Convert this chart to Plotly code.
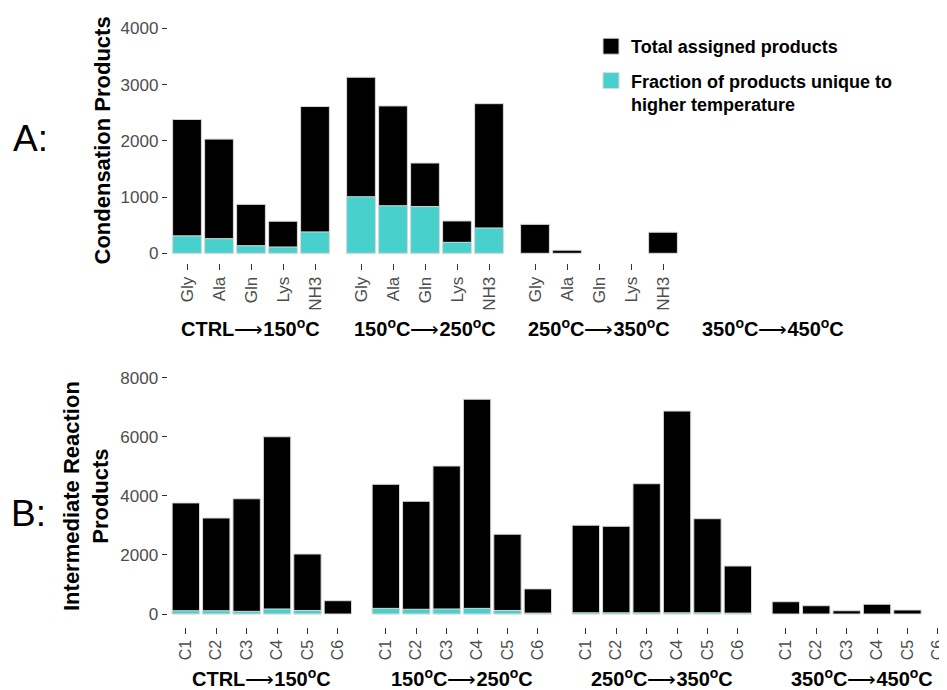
import plotly.graph_objects as go

# ---------------- data ----------------
amino_acids = ["Gly", "Ala", "Gln", "Lys", "NH3"]
carbon_classes = ["C1", "C2", "C3", "C4", "C5", "C6"]
transitions = ["CTRL⟶150<sup>o</sup>C", "150<sup>o</sup>C⟶250<sup>o</sup>C",
               "250<sup>o</sup>C⟶350<sup>o</sup>C", "350<sup>o</sup>C⟶450<sup>o</sup>C"]

# Panel A: condensation products (per transition; last transition has no data)
cond_total_ctrl_150 = [2380, 2030, 870, 570, 2610]
cond_total_150_250 = [3130, 2620, 1605, 575, 2660]
cond_total_250_350 = [515, 55, 0, 0, 375]
cond_unique_ctrl_150 = [310, 260, 135, 112, 380]
cond_unique_150_250 = [1005, 845, 830, 195, 450]
cond_unique_250_350 = [0, 0, 0, 0, 0]

# Panel B: intermediate reaction products
inter_total_ctrl_150 = [3760, 3250, 3900, 6000, 2030, 450]
inter_total_150_250 = [4390, 3815, 5010, 7270, 2700, 850]
inter_total_250_350 = [3005, 2970, 4410, 6870, 3225, 1625]
inter_total_350_450 = [415, 280, 110, 330, 135, 0]
inter_unique_ctrl_150 = [110, 110, 90, 170, 120, 0]
inter_unique_150_250 = [190, 160, 170, 190, 120, 30]
inter_unique_250_350 = [40, 40, 40, 40, 40, 30]
inter_unique_350_450 = [0, 0, 0, 0, 0, 0]

cond_total = [cond_total_ctrl_150, cond_total_150_250, cond_total_250_350, None]
cond_unique = [cond_unique_ctrl_150, cond_unique_150_250, cond_unique_250_350, None]
inter_total = [inter_total_ctrl_150, inter_total_150_250, inter_total_250_350, inter_total_350_450]
inter_unique = [inter_unique_ctrl_150, inter_unique_150_250, inter_unique_250_350, inter_unique_350_450]

# ---------------- style ----------------
W, H = 947, 690
OFF = 8                      # default page margin of the html body
FW, FH = W - OFF, H - OFF    # figure size so that it fits the window
BLACK = "#000000"
CYAN = "#48D1CC"
OUTLINE = "#DADADA"
TICKCOL = "#333333"
LABCOL = "#4D4D4D"
FONT = "Liberation Sans, Arial, sans-serif"


def px_x(p):
    return min(max((p - OFF) / FW, 0), 1)


def px_y(p):
    return min(max(1 - (p - OFF) / FH, 0), 1)


def nz(vals):
    # zero-height bars are not drawn (no outline line at the baseline)
    return [v if v > 0 else None for v in vals]


def facet_label(t):
    # bold temperatures, thin arrow
    a, b = t.split("⟶")
    return f"<b>{a}</b>⟶<b>{b}</b>"


fig = go.Figure()

# facet geometry (pixels in the reference picture)
A_left0, A_step, A_w = 167.8, 174.0, 166.4
B_left0, B_step, B_w = 167.6, 200.0, 188.5

annotations = []

# ---- Panel A ----
for g in range(4):
    ax = g + 1
    xname = "x" if ax == 1 else f"x{ax}"
    left = A_left0 + g * A_step
    dom = [px_x(left), px_x(left + A_w)]
    key = "xaxis" if ax == 1 else f"xaxis{ax}"
    if cond_total[g] is not None:
        fig.add_trace(go.Bar(x=amino_acids, y=nz(cond_total[g]), xaxis=xname, yaxis="y",
                             marker=dict(color=BLACK, line=dict(color=OUTLINE, width=1)),
                             width=0.9, showlegend=False, hoverinfo="x+y"))
        fig.add_trace(go.Bar(x=amino_acids, y=nz(cond_unique[g]), xaxis=xname, yaxis="y",
                             marker=dict(color=CYAN, line=dict(color=OUTLINE, width=1)),
                             width=0.9, showlegend=False, hoverinfo="x+y"))
        fig.layout[key] = dict(domain=dom, anchor="y", type="category",
                               categoryorder="array", categoryarray=amino_acids,
                               range=[-0.6, len(amino_acids) - 0.4],
                               showgrid=False, zeroline=False, showline=False,
                               ticks="outside", ticklen=6, tickcolor=TICKCOL, tickwidth=1,
                               tickangle=-90,
                               tickfont=dict(family=FONT, size=17, color=LABCOL))
    else:
        fig.layout[key] = dict(domain=dom, anchor="y", showgrid=False, zeroline=False,
                               showline=False, showticklabels=False, ticks="",
                               range=[-0.6, len(amino_acids) - 0.4])
    annotations.append(dict(text=facet_label(transitions[g]),
                            x=px_x(left + A_w / 2), y=px_y(327),
                            xref="paper", yref="paper", showarrow=False,
                            xanchor="center", yanchor="middle",
                            font=dict(family=FONT, size=20, color="black")))

# ---- Panel B ----
ncat = len(carbon_classes)
unit_px = B_w / (ncat - 1 + 1.2)
for g in range(4):
    ax = g + 5
    xname = f"x{ax}"
    left = B_left0 + g * B_step
    right = left + B_w
    rng_hi = ncat - 0.4
    if right > W:  # the last facet is cut by the picture edge
        rng_hi -= (right - W) / unit_px
        right = W
    dom = [px_x(left), px_x(right)]
    fig.add_trace(go.Bar(x=carbon_classes, y=nz(inter_total[g]), xaxis=xname, yaxis="y2",
                         marker=dict(color=BLACK, line=dict(color=OUTLINE, width=1)),
                         width=0.9, showlegend=False, hoverinfo="x+y"))
    fig.add_trace(go.Bar(x=carbon_classes, y=nz(inter_unique[g]), xaxis=xname, yaxis="y2",
                         marker=dict(color=CYAN, line=dict(color=OUTLINE, width=1)),
                         width=0.9, showlegend=False, hoverinfo="x+y"))
    fig.layout[f"xaxis{ax}"] = dict(domain=dom, anchor="y2", type="category",
                                    categoryorder="array", categoryarray=carbon_classes,
                                    range=[-0.6, rng_hi],
                                    showgrid=False, zeroline=False, showline=False,
                                    ticks="outside", ticklen=6, tickcolor=TICKCOL, tickwidth=1,
                                    tickangle=-90,
                                    tickfont=dict(family=FONT, size=16, color=LABCOL))
    annotations.append(dict(text=facet_label(transitions[g]),
                            x=px_x(left + B_w / 2), y=px_y(677),
                            xref="paper", yref="paper", showarrow=False,
                            xanchor="center", yanchor="middle",
                            font=dict(family=FONT, size=20, color="black")))

# legend entries
fig.add_trace(go.Scatter(x=[None], y=[None], mode="markers",
                         name="<b>Total assigned products</b>",
                         marker=dict(symbol="square", size=19, color=BLACK,
                                     line=dict(color=OUTLINE, width=1)),
                         legendgroup="a"))
fig.add_trace(go.Scatter(x=[None], y=[None], mode="markers",
                         name="<b>Fraction of products unique to<br>higher temperature</b>",
                         marker=dict(symbol="square", size=19, color=CYAN,
                                     line=dict(color=OUTLINE, width=1)),
                         legendgroup="b"))

# y axes
fig.update_layout(
    yaxis=dict(domain=[px_y(263), px_y(17)], anchor="x",
               range=[-(263 - 253.3) / 0.05625, (253.3 - 17) / 0.05625],
               tickvals=[0, 1000, 2000, 3000, 4000],
               showgrid=False, zeroline=False, showline=False,
               ticks="outside", ticklen=5, tickcolor=TICKCOL,
               tickfont=dict(family=FONT, size=17, color=LABCOL)),
    yaxis2=dict(domain=[px_y(626.5), px_y(370)], anchor="x5",
                range=[-(626.5 - 614) / 0.02954, (614 - 370) / 0.02954],
                tickvals=[0, 2000, 4000, 6000, 8000],
                showgrid=False, zeroline=False, showline=False,
                ticks="outside", ticklen=5, tickcolor=TICKCOL,
                tickfont=dict(family=FONT, size=17, color=LABCOL)),
)

# axis titles & panel letters
annotations += [
    dict(text="<b>Condensation Products</b>", x=px_x(101.5), y=px_y(141), xref="paper", yref="paper",
         textangle=-90, showarrow=False, xanchor="center", yanchor="middle",
         font=dict(family=FONT, size=22, color="black")),
    dict(text="<b>Intermediate Reaction<br>Products</b>", x=px_x(86), y=px_y(496),
         xref="paper", yref="paper", textangle=-90, showarrow=False,
         xanchor="center", yanchor="middle",
         font=dict(family=FONT, size=22, color="black")),
    dict(text="A:", x=px_x(30), y=px_y(138), xref="paper", yref="paper", showarrow=False,
         xanchor="center", yanchor="middle", font=dict(family=FONT, size=37, color="black")),
    dict(text="B:", x=px_x(28), y=px_y(513), xref="paper", yref="paper", showarrow=False,
         xanchor="center", yanchor="middle", font=dict(family=FONT, size=37, color="black")),
]

fig.update_layout(
    width=FW, height=FH,
    margin=dict(l=0, r=0, t=0, b=0),
    paper_bgcolor="white", plot_bgcolor="white",
    barmode="overlay",
    annotations=annotations,
    showlegend=True,
    legend=dict(x=px_x(591), y=px_y(28), xanchor="left", yanchor="top",
                bgcolor="rgba(0,0,0,0)", valign="top", tracegroupgap=8,
                font=dict(family=FONT, size=18, color="black"),
                itemsizing="trace"),
    font=dict(family=FONT),
)

fig.write_html("out.html")
